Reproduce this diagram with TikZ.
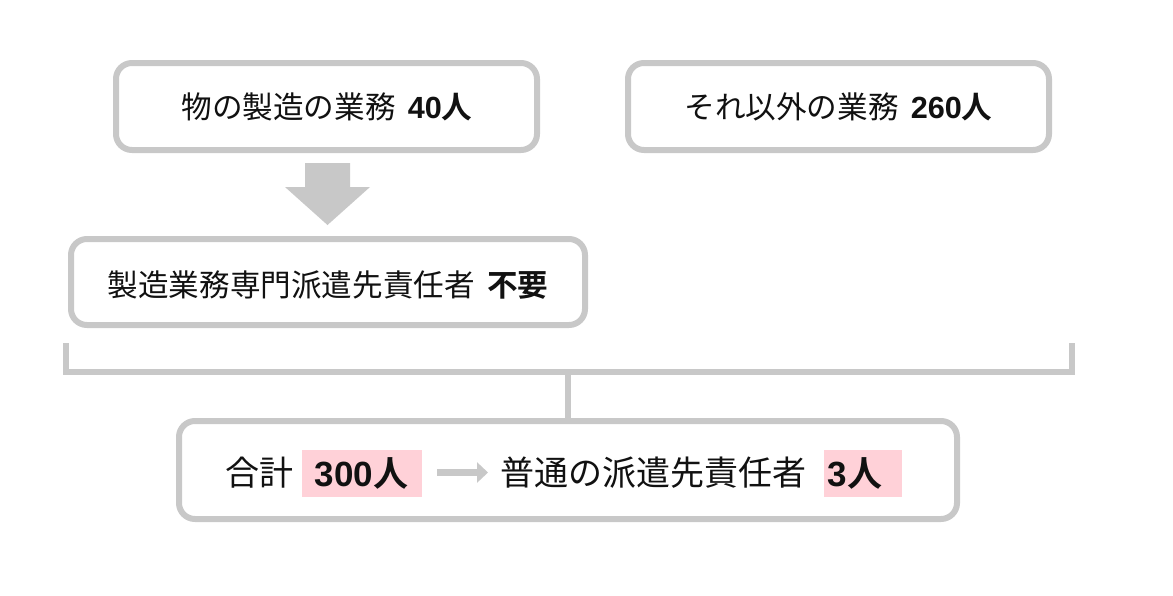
\documentclass[tikz,border=0pt]{standalone}
\usepackage{fontspec}
\setmainfont{Noto Sans CJK JP}[BoldFont={Noto Sans CJK JP Bold}]
\newfontfamily\numfont{Liberation Sans}
\usetikzlibrary{arrows.meta}
\definecolor{boxgray}{HTML}{C8C8C8}
\definecolor{hlpink}{HTML}{FFD1D8}
\definecolor{txt}{HTML}{111111}
\newcommand{\numb}[1]{{\numfont\bfseries #1}}
\tikzset{
  box/.style={draw=boxgray, line width=6pt, rounded corners=16pt, fill=white, inner sep=0pt},
  lbl/.style={text=txt, inner sep=0pt, font=\fontsize{30.6}{33}\selectfont},
  biglbl/.style={text=txt, inner sep=0pt, font=\fontsize{34}{37}\selectfont},
  hl/.style={fill=hlpink, inner sep=0pt},
  hltext/.style={text=txt, inner sep=0pt, font=\fontsize{35}{38}\selectfont},
  bracketline/.style={draw=boxgray, line width=6pt},
}
\begin{document}
\begin{tikzpicture}[x=1pt,y=-1pt]
\useasboundingbox (0,0) rectangle (1173,595);
\fill[white] (0,0) rectangle (1173,595);
% boxes
\node[box, minimum width=421pt, minimum height=87pt] (b1) at (326.5,106.5) {};
\node[box, minimum width=421pt, minimum height=87pt] (b2) at (838.5,106.5) {};
\node[box, minimum width=514pt, minimum height=86pt] (b3) at (328,282) {};
\node[box, minimum width=778pt, minimum height=98pt] (b4) at (568,470) {};
% labels
\node[lbl] (t1) at (327,107) {物の製造の業務\hspace{0.4em}\numb{40}{\bfseries 人}};
\node[lbl] (t2) at (838.5,107) {それ以外の業務\hspace{0.4em}\numb{260}{\bfseries 人}};
\node[lbl] (t3) at (328,285) {製造業務専門派遣先責任者\hspace{0.4em}{\bfseries 不要}};
% block arrow
\fill[boxgray] (305,163) -- (350,163) -- (350,187) -- (370,187) -- (327.5,225) -- (285,187) -- (305,187) -- cycle;
% bracket
\coordinate (bl) at (66,343);
\coordinate (br) at (1072,343);
\coordinate (stem) at (568,372);
\draw[bracketline] (bl) |- (stem) -| (br);
\draw[bracketline] (stem) -- (b4.north);
% bottom content
\node[biglbl] (sum) at (259,473) {合計};
\node[hl, minimum width=120pt, minimum height=47pt] (h1) at (362,473.5) {};
\node[hltext] (h1t) at (361.5,473) {\numb{300}{\bfseries 人}};
\node[biglbl] (norm) at (653.5,473) {普通の派遣先責任者};
\node[hl, minimum width=78pt, minimum height=47pt] (h2) at (863,473.5) {};
\node[hltext] (h2t) at (855,473) {\numb{3}{\bfseries 人}};
\coordinate (a1) at (437,472.5);
\coordinate (a2) at (488,472.5);
\draw[boxgray, line width=7pt, -{Triangle[length=11pt,width=20pt]}] (a1) -- (a2);
\end{tikzpicture}
\end{document}
